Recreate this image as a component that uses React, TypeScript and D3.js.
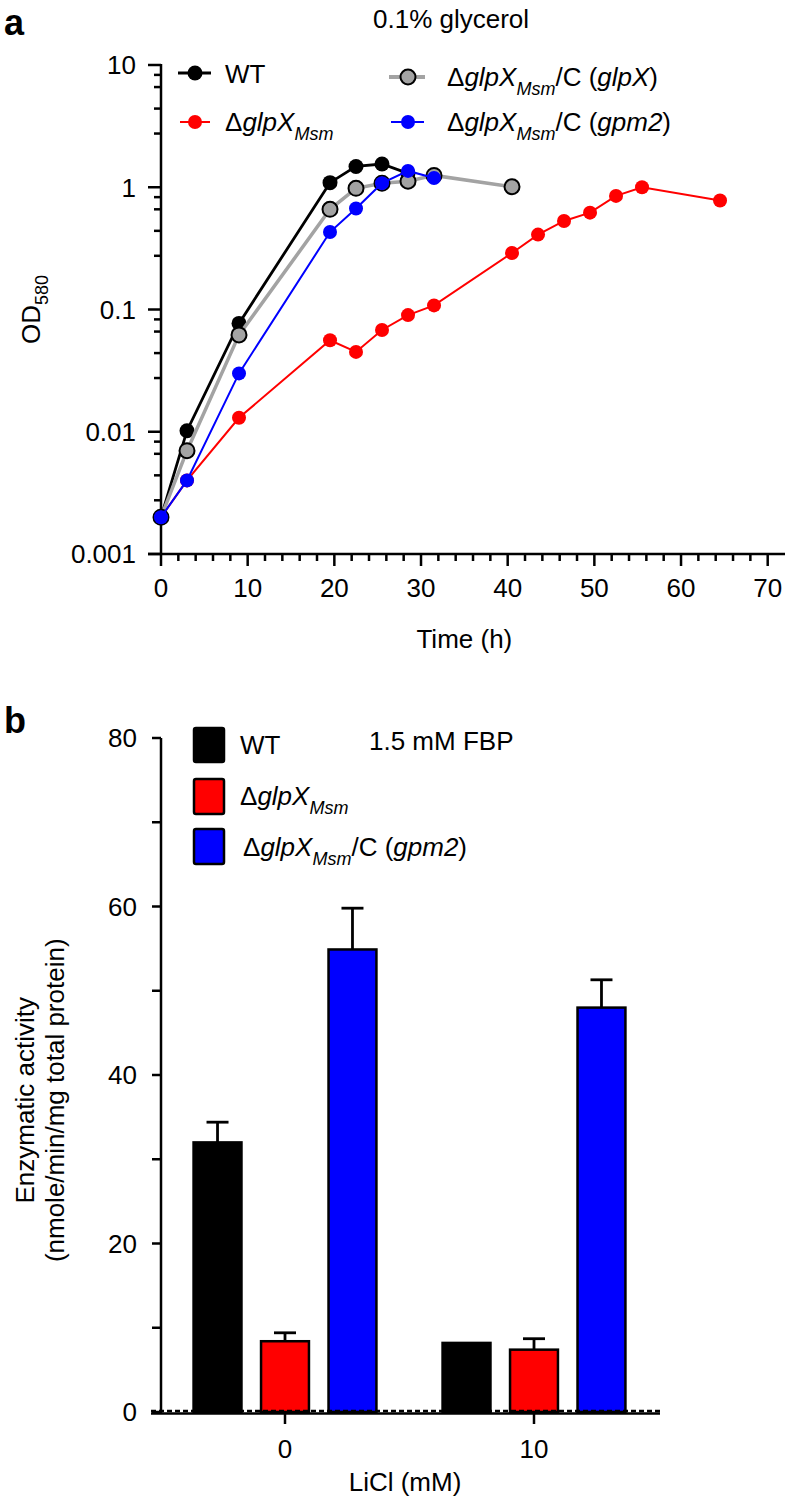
import React from "react";
import * as d3 from "d3";

// panel a: growth in 0.1% glycerol (OD580 vs time)
const wtTime = [0, 3, 9, 19.5, 22.5, 25.5, 28.5];
const wtOD = [0.002, 0.0102, 0.077, 1.09, 1.48, 1.55, 1.3];
const glpxTime = [0, 3, 9, 19.5, 22.5, 25.5, 28.5, 31.5, 40.5];
const glpxOD = [0.002, 0.007, 0.062, 0.66, 0.98, 1.08, 1.12, 1.25, 1.01];
const gpm2Time = [0, 3, 9, 19.5, 22.5, 25.5, 28.5, 31.5];
const gpm2OD = [0.002, 0.004, 0.03, 0.43, 0.67, 1.08, 1.36, 1.19];
const mutTime = [0, 3, 9, 19.5, 22.5, 25.5, 28.5, 31.5, 40.5, 43.5, 46.5, 49.5, 52.5, 55.5, 64.5];
const mutOD = [0.002, 0.004, 0.013, 0.056, 0.045, 0.068, 0.09, 0.108, 0.29, 0.41, 0.53, 0.62, 0.85, 1.0, 0.78];

const yTickValues = [0.001, 0.01, 0.1, 1, 10];
const yTickLabels = ["0.001", "0.01", "0.1", "1", "10"];
const minorFactors = [0.83, 0.66, 0.44, 0.275];
const xTickLabels = [0, 10, 20, 30, 40, 50, 60, 70];

// panel b: FBPase activity, 1.5 mM FBP
const liclConc = ["0", "10"];
const strainKeys = ["wt", "mut", "gpm2"];
const wtActivity = [32, 8.2];
const wtErr = [2.4, 0];
const mutActivity = [8.4, 7.4];
const mutErr = [1.0, 1.3];
const gpm2Activity = [54.9, 48];
const gpm2Err = [4.9, 3.3];
const activityTicks = [0, 20, 40, 60, 80];

const FONT = "'Liberation Sans', Arial, Helvetica, sans-serif";

const xA = d3.scaleLinear().domain([0, 70]).range([161, 767.7]);
const yA = d3.scaleLog().domain([0.001, 10]).range([554, 65]);

const x0 = d3.scaleBand().domain(liclConc).range([160.5, 658.5]);
const x1 = d3
  .scaleBand()
  .domain(strainKeys)
  .range([0, x0.bandwidth()])
  .paddingInner(0.29)
  .paddingOuter(0.49);
const yB = d3.scaleLinear().domain([0, 80]).range([1412, 738]);

const series = [
  { key: "mut", t: mutTime, v: mutOD, color: "#ff0000", lw: 2, r: 7, fill: "#ff0000", stroke: "none" },
  { key: "wt", t: wtTime, v: wtOD, color: "#000000", lw: 2.8, r: 7.5, fill: "#000000", stroke: "none" },
  { key: "glpx", t: glpxTime, v: glpxOD, color: "#a3a3a3", lw: 3.5, r: 7.5, fill: "#a3a3a3", stroke: "#000000" },
  { key: "gpm2", t: gpm2Time, v: gpm2OD, color: "#0000ff", lw: 2, r: 7, fill: "#0000ff", stroke: "none" },
];

const bars = [
  { key: "wt", vals: wtActivity, errs: wtErr, fill: "#000000" },
  { key: "mut", vals: mutActivity, errs: mutErr, fill: "#ff0000" },
  { key: "gpm2", vals: gpm2Activity, errs: gpm2Err, fill: "#0000ff" },
];

const Mutant = ({ x, y, tail }: { x: number; y: number; tail?: React.ReactNode }) => (
  <text x={x} y={y} fontSize={26} fontFamily={FONT}>
    <tspan>Δ</tspan>
    <tspan fontStyle="italic">glpX</tspan>
    <tspan fontStyle="italic" fontSize={18} dy={9}>Msm</tspan>
    {tail}
  </text>
);

const App = () => {
  const line = d3
    .line<[number, number]>()
    .x((d) => xA(d[0]))
    .y((d) => yA(d[1]));

  const minorY: number[] = [];
  yTickValues.slice(1).forEach((top) => minorFactors.forEach((f) => minorY.push(top * f)));
  const xTicks = d3.range(0, 71, 2);
  const barTicks = d3.range(0, 81, 10);

  return (
    <svg
      width={788}
      height={1503}
      style={{ position: "absolute", left: 0, top: 0, background: "#fff" }}
      fontFamily={FONT}
    >
      {/* ---------- panel a ---------- */}
      <text x={4} y={35} fontSize={36} fontWeight="bold">a</text>
      <text x={373} y={28} fontSize={26}>0.1% glycerol</text>

      <g stroke="#000" strokeWidth={2.5}>
        <line x1={161} x2={161} y1={yA(10) - 1} y2={554} />
        <line x1={148} x2={785} y1={554} y2={554} />
        {yTickValues.map((v) => (
          <line key={v} x1={148} x2={161} y1={yA(v)} y2={yA(v)} />
        ))}
        {minorY.map((v) => (
          <line key={v} x1={154} x2={161} y1={yA(v)} y2={yA(v)} />
        ))}
        {xTicks.map((t) => (
          <line key={t} x1={xA(t)} x2={xA(t)} y1={554} y2={554 + (t % 10 === 0 ? 12 : 7)} />
        ))}
      </g>
      {yTickValues.map((v, i) => (
        <text key={v} x={136} y={yA(v)} dy="0.36em" textAnchor="end" fontSize={26}>
          {yTickLabels[i]}
        </text>
      ))}
      {xTickLabels.map((t) => (
        <text key={t} x={xA(t)} y={597} textAnchor="middle" fontSize={26}>
          {t}
        </text>
      ))}
      <text x={xA(35)} y={648} textAnchor="middle" fontSize={26}>Time (h)</text>
      <text transform={`translate(40, ${yA(0.1)}) rotate(-90)`} textAnchor="middle" fontSize={26}>
        OD<tspan fontSize={18} dy={8}>580</tspan>
      </text>

      {series.map((s) => {
        const pts = s.t.map((t, i) => [t, s.v[i]] as [number, number]);
        return (
          <g key={s.key}>
            <path d={line(pts) || ""} fill="none" stroke={s.color} strokeWidth={s.lw} />
            {pts.map((p, i) => (
              <circle
                key={i}
                cx={xA(p[0])}
                cy={yA(p[1])}
                r={s.r}
                fill={s.fill}
                stroke={s.stroke}
                strokeWidth={s.stroke === "none" ? 0 : 2}
              />
            ))}
          </g>
        );
      })}

      {/* legend a */}
      <g>
        <line x1={178} x2={211} y1={73} y2={73} stroke="#000" strokeWidth={3} />
        <circle cx={195} cy={73} r={7.5} fill="#000" />
        <text x={225} y={83} fontSize={26}>WT</text>

        <line x1={180} x2={210} y1={122} y2={122} stroke="#ff0000" strokeWidth={2} />
        <circle cx={195} cy={122} r={7} fill="#ff0000" />
        <Mutant x={225} y={131} />

        <line x1={389} x2={425} y1={77} y2={77} stroke="#a3a3a3" strokeWidth={4} />
        <circle cx={408} cy={77} r={7.5} fill="#a3a3a3" stroke="#000" strokeWidth={2} />
        <Mutant
          x={447}
          y={86}
          tail={
            <>
              <tspan dy={-9}>/C (</tspan>
              <tspan fontStyle="italic">glpX</tspan>
              <tspan>)</tspan>
            </>
          }
        />

        <line x1={391} x2={424} y1={122} y2={122} stroke="#0000ff" strokeWidth={2} />
        <circle cx={408} cy={122} r={7} fill="#0000ff" />
        <Mutant
          x={447}
          y={131}
          tail={
            <>
              <tspan dy={-9}>/C (</tspan>
              <tspan fontStyle="italic">gpm2</tspan>
              <tspan>)</tspan>
            </>
          }
        />
      </g>

      {/* ---------- panel b ---------- */}
      <text x={4} y={733} fontSize={36} fontWeight="bold">b</text>
      <text x={369} y={750} fontSize={26}>1.5 mM FBP</text>

      {liclConc.map((c, ci) => (
        <g key={c} transform={`translate(${x0(c)},0)`}>
          {bars.map((b) => {
            const bx = x1(b.key) as number;
            const bw = x1.bandwidth();
            const top = yB(b.vals[ci]);
            const errTop = yB(b.vals[ci] + b.errs[ci]);
            return (
              <g key={b.key}>
                {b.errs[ci] > 0 && (
                  <g stroke="#000" strokeWidth={2.8}>
                    <line x1={bx + bw / 2} x2={bx + bw / 2} y1={top} y2={errTop} />
                    <line x1={bx + bw / 2 - 11} x2={bx + bw / 2 + 11} y1={errTop} y2={errTop} />
                  </g>
                )}
                <rect
                  x={bx}
                  y={top}
                  width={bw}
                  height={yB(0) - top}
                  fill={b.fill}
                  stroke="#000"
                  strokeWidth={2.5}
                />
              </g>
            );
          })}
        </g>
      ))}

      <g stroke="#000" strokeWidth={2.5}>
        <line x1={161} x2={161} y1={yB(80)} y2={yB(0) + 1} />
        <line x1={151} x2={660} y1={yB(0) + 1.5} y2={yB(0) + 1.5} />
        {barTicks.map((v) => (
          <line key={v} x1={152} x2={161} y1={yB(v)} y2={yB(v)} />
        ))}
        {liclConc.map((c) => (
          <line
            key={c}
            x1={(x0(c) as number) + x0.bandwidth() / 2}
            x2={(x0(c) as number) + x0.bandwidth() / 2}
            y1={yB(0)}
            y2={yB(0) + 12}
          />
        ))}
      </g>
      <line
        x1={151}
        x2={660}
        y1={yB(0) - 1}
        y2={yB(0) - 1}
        stroke="#000"
        strokeWidth={2.5}
        strokeDasharray="5,3"
      />
      {activityTicks.map((v) => (
        <text key={v} x={137} y={yB(v)} dy="0.36em" textAnchor="end" fontSize={26}>
          {v}
        </text>
      ))}
      {liclConc.map((c) => (
        <text
          key={c}
          x={(x0(c) as number) + x0.bandwidth() / 2}
          y={1458}
          textAnchor="middle"
          fontSize={26}
        >
          {c}
        </text>
      ))}
      <text x={405} y={1491} textAnchor="middle" fontSize={26}>LiCl (mM)</text>
      <text transform={`translate(34, ${yB(37)}) rotate(-90)`} textAnchor="middle" fontSize={26}>
        Enzymatic activity
      </text>
      <text transform={`translate(64, ${yB(37)}) rotate(-90)`} textAnchor="middle" fontSize={26}>
        (nmole/min/mg total protein)
      </text>

      {/* legend b */}
      <g stroke="#000" strokeWidth={2.5}>
        <rect x={194} y={728} width={30} height={34} rx={2} fill="#000" />
        <rect x={194} y={779} width={30} height={35} rx={2} fill="#ff0000" />
        <rect x={194} y={829} width={30} height={35} rx={2} fill="#0000ff" />
      </g>
      <text x={240} y={754} fontSize={26}>WT</text>
      <Mutant x={240} y={805} />
      <Mutant
        x={243}
        y={856}
        tail={
          <>
            <tspan dy={-9}>/C (</tspan>
            <tspan fontStyle="italic">gpm2</tspan>
            <tspan>)</tspan>
          </>
        }
      />
    </svg>
  );
};

export default App;
